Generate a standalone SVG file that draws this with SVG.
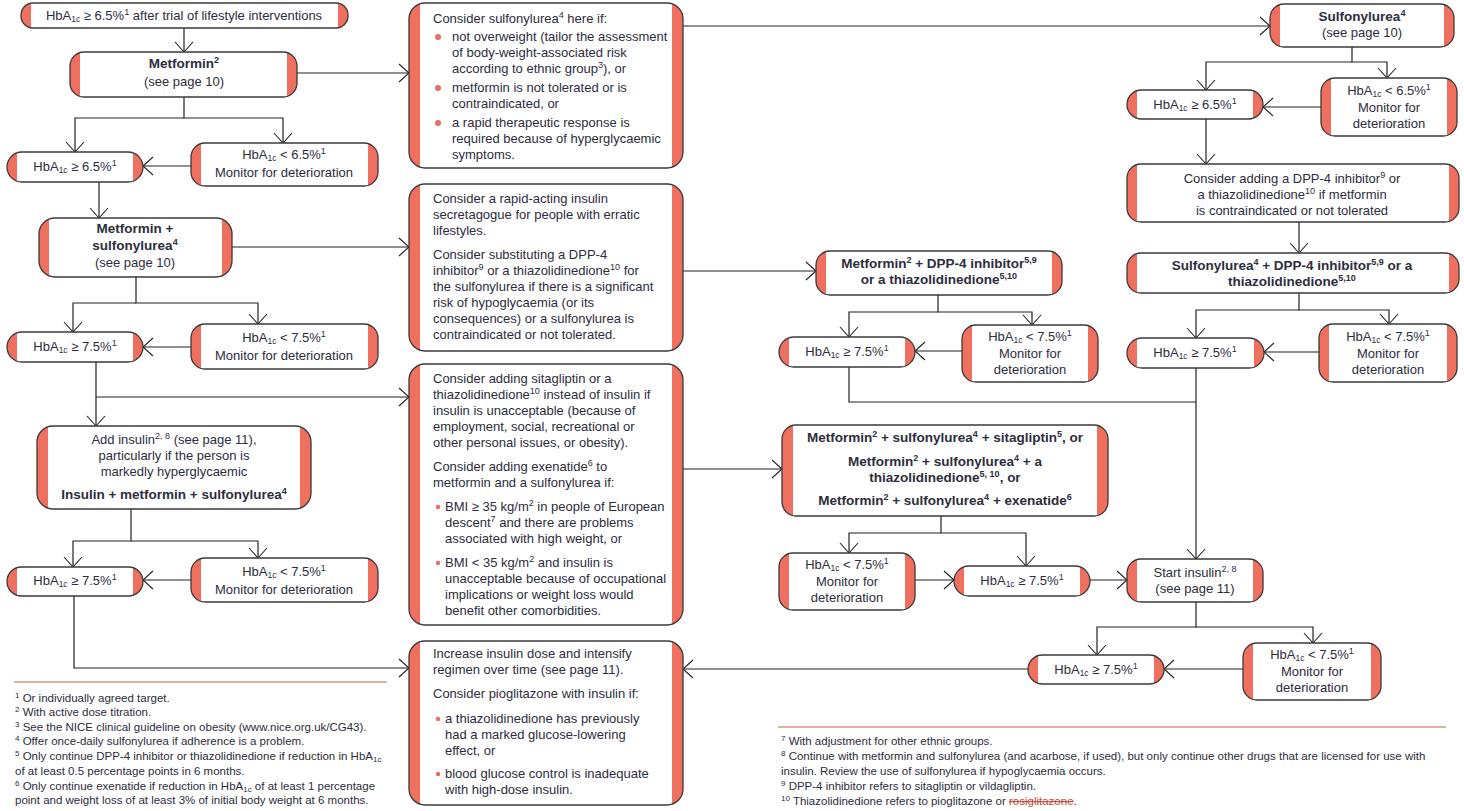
<svg xmlns="http://www.w3.org/2000/svg" width="1464" height="811" viewBox="0 0 1464 811">
<style>
.r{fill:#F0705F}
.w{fill:#fff}
.b{fill:none;stroke:#3a3a3a;stroke-width:1.3}
text{font-family:"Liberation Sans",Arial,sans-serif;font-size:13px;fill:#2d2d3d}
.c{text-anchor:middle}
.bd{font-weight:bold;font-size:13.5px}
.sp{font-size:9px;baseline-shift:super}
.sb{font-size:8.5px;baseline-shift:-2px}
.fn{font-size:11.5px}
.fs{font-size:8px;baseline-shift:super}
.fb{font-size:8px;baseline-shift:-2px}
.strk{fill:#C0503A;text-decoration:line-through}
.cn{fill:none;stroke:#222;stroke-width:1.2;marker-end:url(#a)}
.dot{fill:#E8705F}
.rule{stroke:#C8614A;stroke-width:1.2}
</style>
<defs>
<marker id="a" markerWidth="12" markerHeight="20" refX="11" refY="10" orient="auto" markerUnits="userSpaceOnUse" viewBox="0 0 12 20"><path d="M1,1 L11,10 L1,19" fill="none" stroke="#222" stroke-width="1.1"/></marker>
</defs>

<g id="connectors">
<path class="cn" d="M184,28V52"/>
<path class="cn" d="M184,118H75V152"/>
<path class="cn" d="M184,97V118H283V143"/>
<path class="cn" d="M191,166H143"/>
<path class="cn" d="M297,73H409"/>
<path class="cn" d="M683,26H1270"/>
<path class="cn" d="M99,182V218"/>
<path class="cn" d="M232,247H409"/>
<path class="cn" d="M683,271H816"/>
<path class="cn" d="M136,303H73V332"/>
<path class="cn" d="M136,277V303H258V324"/>
<path class="cn" d="M191,347H143"/>
<path class="cn" d="M96,362V426"/>
<path class="cn" d="M96,397H409"/>
<path class="cn" d="M683,469H782"/>
<path class="cn" d="M131,541H73V567"/>
<path class="cn" d="M131,509V541H258V558"/>
<path class="cn" d="M191,580H143"/>
<path class="cn" d="M74,596V668H409"/>
<path class="cn" d="M938,312H849V337"/>
<path class="cn" d="M938,295V312H1032V325"/>
<path class="cn" d="M962,351H915"/>
<path fill="none" stroke="#222" stroke-width="1.2" d="M849,367V402H1196"/>
<path class="cn" d="M941,533H849V553"/>
<path class="cn" d="M941,516V533H1026V566"/>
<path class="cn" d="M915,580H954"/>
<path class="cn" d="M1090,580H1127"/>
<path class="cn" d="M1352,62H1206V90"/>
<path class="cn" d="M1352,47V62H1387V78"/>
<path class="cn" d="M1321,107H1263"/>
<path class="cn" d="M1206,119V164"/>
<path class="cn" d="M1299,222V253"/>
<path class="cn" d="M1299,310H1196V338"/>
<path class="cn" d="M1299,293V310H1389V324"/>
<path class="cn" d="M1319,352H1264"/>
<path class="cn" d="M1196,368V559"/>
<path class="cn" d="M1196,627H1097V655"/>
<path class="cn" d="M1196,602V627H1313V643"/>
<path class="cn" d="M1243,669H1164"/>
<path class="cn" d="M1028,669H683"/>
</g>

<g id="n1"><rect class="r" x="21" y="3" width="327" height="25" rx="12"/><rect class="w" x="31" y="3" width="307" height="25"/><rect class="b" x="21" y="3" width="327" height="25" rx="12"/>
<text class="c" x="184" y="20">HbA<tspan class="sb">1c</tspan> ≥ 6.5%<tspan class="sp">1</tspan> after trial of lifestyle interventions</text></g>

<g id="n2"><rect class="r" x="70" y="52" width="227" height="45" rx="14"/><rect class="w" x="80" y="52" width="207" height="45"/><rect class="b" x="70" y="52" width="227" height="45" rx="14"/>
<text class="c bd" x="184" y="68">Metformin<tspan class="sp">2</tspan></text><text class="c" x="184" y="86">(see page 10)</text></g>

<g id="n3"><rect class="r" x="7" y="152" width="136" height="30" rx="15"/><rect class="w" x="17" y="152" width="116" height="30"/><rect class="b" x="7" y="152" width="136" height="30" rx="15"/>
<text class="c" x="75" y="171">HbA<tspan class="sb">1c</tspan> ≥ 6.5%<tspan class="sp">1</tspan></text></g>

<g id="n4"><rect class="r" x="191" y="143" width="187" height="43" rx="14"/><rect class="w" x="201" y="143" width="167" height="43"/><rect class="b" x="191" y="143" width="187" height="43" rx="14"/>
<text class="c" x="284" y="159">HbA<tspan class="sb">1c</tspan> &lt; 6.5%<tspan class="sp">1</tspan></text><text class="c" x="284" y="177">Monitor for deterioration</text></g>

<g id="n5"><rect class="r" x="409" y="3" width="274" height="165" rx="16"/><rect class="w" x="420" y="3" width="252" height="165"/><rect class="b" x="409" y="3" width="274" height="165" rx="16"/>
<text x="433" y="23">Consider sulfonylurea<tspan class="sp">4</tspan> here if:</text>
<circle class="dot" cx="438" cy="37" r="3"/>
<text x="452" y="41">not overweight (tailor the assessment</text>
<text x="452" y="57">of body-weight-associated risk</text>
<text x="452" y="73">according to ethnic group<tspan class="sp">3</tspan>), or</text>
<circle class="dot" cx="438" cy="88" r="3"/>
<text x="452" y="92">metformin is not tolerated or is</text>
<text x="452" y="108">contraindicated, or</text>
<circle class="dot" cx="438" cy="123" r="3"/>
<text x="452" y="127">a rapid therapeutic response is</text>
<text x="452" y="143">required because of hyperglycaemic</text>
<text x="452" y="159">symptoms.</text></g>

<g id="n6"><rect class="r" x="39" y="218" width="193" height="59" rx="16"/><rect class="w" x="49" y="218" width="173" height="59"/><rect class="b" x="39" y="218" width="193" height="59" rx="16"/>
<text class="c bd" x="135" y="233">Metformin +</text><text class="c bd" x="135" y="250">sulfonylurea<tspan class="sp">4</tspan></text><text class="c" x="135" y="267">(see page 10)</text></g>

<g id="n7"><rect class="r" x="409" y="184" width="274" height="167" rx="16"/><rect class="w" x="420" y="184" width="252" height="167"/><rect class="b" x="409" y="184" width="274" height="167" rx="16"/>
<text x="433" y="203">Consider a rapid-acting insulin</text>
<text x="433" y="219">secretagogue for people with erratic</text>
<text x="433" y="235">lifestyles.</text>
<text x="433" y="259">Consider substituting a DPP-4</text>
<text x="433" y="275">inhibitor<tspan class="sp">9</tspan> or a thiazolidinedione<tspan class="sp">10</tspan> for</text>
<text x="433" y="291">the sulfonylurea if there is a significant</text>
<text x="433" y="307">risk of hypoglycaemia (or its</text>
<text x="433" y="323">consequences) or a sulfonylurea is</text>
<text x="433" y="339">contraindicated or not tolerated.</text></g>

<g id="n8"><rect class="r" x="7" y="332" width="136" height="30" rx="15"/><rect class="w" x="17" y="332" width="116" height="30"/><rect class="b" x="7" y="332" width="136" height="30" rx="15"/>
<text class="c" x="75" y="351">HbA<tspan class="sb">1c</tspan> ≥ 7.5%<tspan class="sp">1</tspan></text></g>

<g id="n9"><rect class="r" x="191" y="324" width="187" height="45" rx="14"/><rect class="w" x="201" y="324" width="167" height="45"/><rect class="b" x="191" y="324" width="187" height="45" rx="14"/>
<text class="c" x="284" y="342">HbA<tspan class="sb">1c</tspan> &lt; 7.5%<tspan class="sp">1</tspan></text><text class="c" x="284" y="360">Monitor for deterioration</text></g>

<g id="n10"><rect class="r" x="409" y="364" width="274" height="261" rx="16"/><rect class="w" x="420" y="364" width="252" height="261"/><rect class="b" x="409" y="364" width="274" height="261" rx="16"/>
<text x="433" y="383">Consider adding sitagliptin or a</text>
<text x="433" y="399">thiazolidinedione<tspan class="sp">10</tspan> instead of insulin if</text>
<text x="433" y="415">insulin is unacceptable (because of</text>
<text x="433" y="431">employment, social, recreational or</text>
<text x="433" y="447">other personal issues, or obesity).</text>
<text x="433" y="471">Consider adding exenatide<tspan class="sp">6</tspan> to</text>
<text x="433" y="487">metformin and a sulfonylurea if:</text>
<circle class="dot" cx="438" cy="507" r="2.2"/>
<text x="445" y="511">BMI ≥ 35 kg/m<tspan class="sp">2</tspan> in people of European</text>
<text x="445" y="527">descent<tspan class="sp">7</tspan> and there are problems</text>
<text x="445" y="543">associated with high weight, or</text>
<circle class="dot" cx="438" cy="563" r="2.2"/>
<text x="445" y="567">BMI &lt; 35 kg/m<tspan class="sp">2</tspan> and insulin is</text>
<text x="445" y="583">unacceptable because of occupational</text>
<text x="445" y="599">implications or weight loss would</text>
<text x="445" y="615">benefit other comorbidities.</text></g>

<g id="n11"><rect class="r" x="37" y="426" width="274" height="83" rx="16"/><rect class="w" x="48" y="426" width="252" height="83"/><rect class="b" x="37" y="426" width="274" height="83" rx="16"/>
<text class="c" x="174" y="444">Add insulin<tspan class="sp">2, 8</tspan> (see page 11),</text>
<text class="c" x="174" y="460">particularly if the person is</text>
<text class="c" x="174" y="476">markedly hyperglycaemic</text>
<text class="c bd" x="174" y="499">Insulin + metformin + sulfonylurea<tspan class="sp">4</tspan></text></g>

<g id="n12"><rect class="r" x="7" y="567" width="136" height="29" rx="14.5"/><rect class="w" x="17" y="567" width="116" height="29"/><rect class="b" x="7" y="567" width="136" height="29" rx="14.5"/>
<text class="c" x="75" y="585">HbA<tspan class="sb">1c</tspan> ≥ 7.5%<tspan class="sp">1</tspan></text></g>

<g id="n13"><rect class="r" x="191" y="558" width="187" height="44" rx="14"/><rect class="w" x="201" y="558" width="167" height="44"/><rect class="b" x="191" y="558" width="187" height="44" rx="14"/>
<text class="c" x="284" y="576">HbA<tspan class="sb">1c</tspan> &lt; 7.5%<tspan class="sp">1</tspan></text><text class="c" x="284" y="594">Monitor for deterioration</text></g>

<g id="n14"><rect class="r" x="409" y="641" width="274" height="164" rx="16"/><rect class="w" x="420" y="641" width="252" height="164"/><rect class="b" x="409" y="641" width="274" height="164" rx="16"/>
<text x="433" y="658">Increase insulin dose and intensify</text>
<text x="433" y="674">regimen over time (see page 11).</text>
<text x="433" y="698">Consider pioglitazone with insulin if:</text>
<circle class="dot" cx="438" cy="719" r="2.2"/>
<text x="445" y="723">a thiazolidinedione has previously</text>
<text x="445" y="739">had a marked glucose-lowering</text>
<text x="445" y="755">effect, or</text>
<circle class="dot" cx="438" cy="774" r="2.2"/>
<text x="445" y="778">blood glucose control is inadequate</text>
<text x="445" y="794">with high-dose insulin.</text></g>

<g id="n15"><rect class="r" x="816" y="251" width="246" height="44" rx="14"/><rect class="w" x="826" y="251" width="226" height="44"/><rect class="b" x="816" y="251" width="246" height="44" rx="14"/>
<text class="c bd" x="939" y="268">Metformin<tspan class="sp">2</tspan> + DPP-4 inhibitor<tspan class="sp">5,9</tspan></text>
<text class="c bd" x="939" y="284">or a thiazolidinedione<tspan class="sp">5,10</tspan></text></g>

<g id="n16"><rect class="r" x="779" y="337" width="136" height="30" rx="15"/><rect class="w" x="789" y="337" width="116" height="30"/><rect class="b" x="779" y="337" width="136" height="30" rx="15"/>
<text class="c" x="847" y="356">HbA<tspan class="sb">1c</tspan> ≥ 7.5%<tspan class="sp">1</tspan></text></g>

<g id="n17"><rect class="r" x="962" y="325" width="136" height="57" rx="14"/><rect class="w" x="972" y="325" width="116" height="57"/><rect class="b" x="962" y="325" width="136" height="57" rx="14"/>
<text class="c" x="1030" y="341">HbA<tspan class="sb">1c</tspan> &lt; 7.5%<tspan class="sp">1</tspan></text><text class="c" x="1030" y="358">Monitor for</text><text class="c" x="1030" y="374">deterioration</text></g>

<g id="n18"><rect class="r" x="782" y="425" width="326" height="91" rx="14"/><rect class="w" x="793" y="425" width="304" height="91"/><rect class="b" x="782" y="425" width="326" height="91" rx="14"/>
<text class="c bd" x="945" y="442">Metformin<tspan class="sp">2</tspan> + sulfonylurea<tspan class="sp">4</tspan> + sitagliptin<tspan class="sp">5</tspan>, or</text>
<text class="c bd" x="945" y="466">Metformin<tspan class="sp">2</tspan> + sulfonylurea<tspan class="sp">4</tspan> + a</text>
<text class="c bd" x="945" y="482">thiazolidinedione<tspan class="sp">5, 10</tspan>, or</text>
<text class="c bd" x="945" y="505">Metformin<tspan class="sp">2</tspan> + sulfonylurea<tspan class="sp">4</tspan> + exenatide<tspan class="sp">6</tspan></text></g>

<g id="n19"><rect class="r" x="779" y="553" width="136" height="57" rx="14"/><rect class="w" x="789" y="553" width="116" height="57"/><rect class="b" x="779" y="553" width="136" height="57" rx="14"/>
<text class="c" x="847" y="569">HbA<tspan class="sb">1c</tspan> &lt; 7.5%<tspan class="sp">1</tspan></text><text class="c" x="847" y="586">Monitor for</text><text class="c" x="847" y="602">deterioration</text></g>

<g id="n20"><rect class="r" x="954" y="566" width="136" height="30" rx="15"/><rect class="w" x="964" y="566" width="116" height="30"/><rect class="b" x="954" y="566" width="136" height="30" rx="15"/>
<text class="c" x="1022" y="585">HbA<tspan class="sb">1c</tspan> ≥ 7.5%<tspan class="sp">1</tspan></text></g>

<g id="n21"><rect class="r" x="1270" y="4" width="184" height="43" rx="14"/><rect class="w" x="1280" y="4" width="164" height="43"/><rect class="b" x="1270" y="4" width="184" height="43" rx="14"/>
<text class="c bd" x="1362" y="21">Sulfonylurea<tspan class="sp">4</tspan></text><text class="c" x="1362" y="37">(see page 10)</text></g>

<g id="n22"><rect class="r" x="1127" y="90" width="136" height="29" rx="14.5"/><rect class="w" x="1137" y="90" width="116" height="29"/><rect class="b" x="1127" y="90" width="136" height="29" rx="14.5"/>
<text class="c" x="1195" y="109">HbA<tspan class="sb">1c</tspan> ≥ 6.5%<tspan class="sp">1</tspan></text></g>

<g id="n23"><rect class="r" x="1321" y="78" width="136" height="58" rx="14"/><rect class="w" x="1331" y="78" width="116" height="58"/><rect class="b" x="1321" y="78" width="136" height="58" rx="14"/>
<text class="c" x="1389" y="95">HbA<tspan class="sb">1c</tspan> &lt; 6.5%<tspan class="sp">1</tspan></text><text class="c" x="1389" y="112">Monitor for</text><text class="c" x="1389" y="128">deterioration</text></g>

<g id="n24"><rect class="r" x="1127" y="164" width="332" height="58" rx="14"/><rect class="w" x="1137" y="164" width="312" height="58"/><rect class="b" x="1127" y="164" width="332" height="58" rx="14"/>
<text class="c" x="1292" y="183">Consider adding a DPP-4 inhibitor<tspan class="sp">9</tspan> or</text>
<text class="c" x="1292" y="199">a thiazolidinedione<tspan class="sp">10</tspan> if metformin</text>
<text class="c" x="1292" y="215">is contraindicated or not tolerated</text></g>

<g id="n25"><rect class="r" x="1127" y="253" width="332" height="40" rx="14"/><rect class="w" x="1137" y="253" width="312" height="40"/><rect class="b" x="1127" y="253" width="332" height="40" rx="14"/>
<text class="c bd" x="1292" y="270">Sulfonylurea<tspan class="sp">4</tspan> + DPP-4 inhibitor<tspan class="sp">5,9</tspan> or a</text>
<text class="c bd" x="1292" y="286">thiazolidinedione<tspan class="sp">5,10</tspan></text></g>

<g id="n26"><rect class="r" x="1127" y="338" width="137" height="30" rx="15"/><rect class="w" x="1137" y="338" width="117" height="30"/><rect class="b" x="1127" y="338" width="137" height="30" rx="15"/>
<text class="c" x="1195" y="357">HbA<tspan class="sb">1c</tspan> ≥ 7.5%<tspan class="sp">1</tspan></text></g>

<g id="n27"><rect class="r" x="1319" y="324" width="138" height="58" rx="14"/><rect class="w" x="1329" y="324" width="118" height="58"/><rect class="b" x="1319" y="324" width="138" height="58" rx="14"/>
<text class="c" x="1388" y="341">HbA<tspan class="sb">1c</tspan> &lt; 7.5%<tspan class="sp">1</tspan></text><text class="c" x="1388" y="358">Monitor for</text><text class="c" x="1388" y="374">deterioration</text></g>

<g id="n28"><rect class="r" x="1127" y="559" width="136" height="43" rx="14"/><rect class="w" x="1137" y="559" width="116" height="43"/><rect class="b" x="1127" y="559" width="136" height="43" rx="14"/>
<text class="c" x="1195" y="577">Start insulin<tspan class="sp">2, 8</tspan></text><text class="c" x="1195" y="593">(see page 11)</text></g>

<g id="n29"><rect class="r" x="1028" y="655" width="136" height="29" rx="14.5"/><rect class="w" x="1038" y="655" width="116" height="29"/><rect class="b" x="1028" y="655" width="136" height="29" rx="14.5"/>
<text class="c" x="1096" y="674">HbA<tspan class="sb">1c</tspan> ≥ 7.5%<tspan class="sp">1</tspan></text></g>

<g id="n30"><rect class="r" x="1243" y="643" width="138" height="57" rx="14"/><rect class="w" x="1253" y="643" width="118" height="57"/><rect class="b" x="1243" y="643" width="138" height="57" rx="14"/>
<text class="c" x="1312" y="659">HbA<tspan class="sb">1c</tspan> &lt; 7.5%<tspan class="sp">1</tspan></text><text class="c" x="1312" y="676">Monitor for</text><text class="c" x="1312" y="692">deterioration</text></g>

<g id="footnotes-left">
<line class="rule" x1="14" y1="682" x2="387" y2="682"/>
<text class="fn" x="15" y="702"><tspan class="fs">1</tspan> Or individually agreed target.</text>
<text class="fn" x="15" y="716"><tspan class="fs">2</tspan> With active dose titration.</text>
<text class="fn" x="15" y="731"><tspan class="fs">3</tspan> See the NICE clinical guideline on obesity (www.nice.org.uk/CG43).</text>
<text class="fn" x="15" y="745"><tspan class="fs">4</tspan> Offer once-daily sulfonylurea if adherence is a problem.</text>
<text class="fn" x="15" y="760"><tspan class="fs">5</tspan> Only continue DPP-4 inhibitor or thiazolidinedione if reduction in HbA<tspan class="fb">1c</tspan></text>
<text class="fn" x="15" y="775">of at least 0.5 percentage points in 6 months.</text>
<text class="fn" x="15" y="790"><tspan class="fs">6</tspan> Only continue exenatide if reduction in HbA<tspan class="fb">1c</tspan> of at least 1 percentage</text>
<text class="fn" x="15" y="804">point and weight loss of at least 3% of initial body weight at 6 months.</text>
</g>

<g id="footnotes-right">
<line class="rule" x1="778" y1="727" x2="1446" y2="727"/>
<text class="fn" x="781" y="745"><tspan class="fs">7</tspan> With adjustment for other ethnic groups.</text>
<text class="fn" x="781" y="760"><tspan class="fs">8</tspan> Continue with metformin and sulfonylurea (and acarbose, if used), but only continue other drugs that are licensed for use with</text>
<text class="fn" x="781" y="775">insulin. Review the use of sulfonylurea if hypoglycaemia occurs.</text>
<text class="fn" x="781" y="790"><tspan class="fs">9</tspan> DPP-4 inhibitor refers to sitagliptin or vildagliptin.</text>
<text class="fn" x="781" y="805"><tspan class="fs">10</tspan> Thiazolidinedione refers to pioglitazone or <tspan class="strk">rosiglitazone</tspan>.</text>
</g>
</svg>
